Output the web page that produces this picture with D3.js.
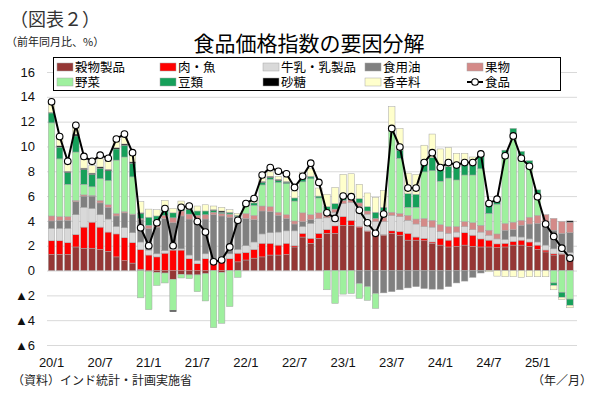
<!DOCTYPE html>
<meta charset="utf-8">
<script src="https://cdn.jsdelivr.net/npm/d3@7"></script>
<style>
  body { margin: 0; background: #fff; }
  text { font-family: "Noto Sans CJK JP", "Noto Sans", sans-serif; }
  .num text { font-family: "Liberation Sans", Arial, sans-serif; }
</style>
<div id="chart"></div>
<script>
  // categories: 2020/1 - 2025/5
  var months = [
    "20/1","20/2","20/3","20/4","20/5","20/6","20/7","20/8","20/9","20/10","20/11","20/12",
    "21/1","21/2","21/3","21/4","21/5","21/6","21/7","21/8","21/9","21/10","21/11","21/12",
    "22/1","22/2","22/3","22/4","22/5","22/6","22/7","22/8","22/9","22/10","22/11","22/12",
    "23/1","23/2","23/3","23/4","23/5","23/6","23/7","23/8","23/9","23/10","23/11","23/12",
    "24/1","24/2","24/3","24/4","24/5","24/6","24/7","24/8","24/9","24/10","24/11","24/12",
    "25/1","25/2","25/3","25/4","25/5"];
  var tickLabels = ["20/1","20/7","21/1","21/7","22/1","22/7","23/1","23/7","24/1","24/7","25/1"];
  var yTicks = [-6,-4,-2,0,2,4,6,8,10,12,14,16];

  // contributions (percentage points)
  var grain = [1.3,1.3,1.3,1.9,1.8,1.8,1.7,1.55,1.1,0.8,0.6,0.1,
    -0.05,-0.15,-0.2,-0.7,-0.3,-0.35,-0.35,-0.25,0,-0.15,0,0.7,
    0.85,1.0,1.1,1.25,1.25,1.3,1.9,2.7,2.2,2.6,3.0,3.0,
    3.65,3.65,3.45,3.15,3.0,2.85,3.0,2.85,2.45,2.45,2.4,2.2,
    2.05,1.9,1.95,2.05,1.95,1.9,1.9,1.85,1.9,2.05,2.05,1.95,
    1.7,1.5,1.25,1.3,1.0];
  var meat = [1.1,1.1,0.95,1.0,1.7,2.1,1.8,1.55,1.85,1.85,1.65,1.6,
    1.25,1.1,1.4,1.65,1.65,0.95,0.55,0.95,0.6,0.85,0.95,0.7,
    0.6,0.7,1.1,0.95,0.8,0.9,0.1,0.3,0.4,0.4,0.3,0.6,
    0.7,0.4,0.1,0.05,0,0.05,0.2,0.3,0.55,0.25,0.2,0.1,
    0.55,0.55,0.75,1.0,0.9,0.65,0.55,0.3,0.3,0.3,0.4,0.35,
    0.35,0.15,0.1,0.05,0.05];
  var dairy = [1.0,1.0,1.15,1.6,1.6,1.1,1.0,1.05,0.6,0.8,0.8,0.6,
    0.4,0.25,0.2,0.1,0.1,0.3,0.25,0.4,0.2,0.25,0.4,0.3,
    0.55,0.6,0.75,0.85,1.05,1.0,1.2,0.55,1.2,1.2,0.95,1.1,
    1.05,1.45,1.6,1.35,0.95,1.05,1.25,1.2,1.05,1.05,0.95,1.2,
    0.55,0.55,0.4,0.5,0.45,0.55,0.4,0.4,0.3,0.4,0.25,0.25,
    0.25,0.4,0.4,0.35,0.4];
  var oil = [0.6,0.65,0.65,1.05,0.9,1.0,0.95,0.95,0.85,1.2,1.45,1.8,
    1.75,2.15,2.6,2.1,2.65,2.9,3.2,2.8,3.7,3.3,2.95,2.35,
    2.2,1.8,1.85,1.7,1.35,1.0,0.55,0.4,0.3,0,0,0,
    0,0,-1.05,-1.3,-1.85,-1.8,-1.7,-1.55,-1.4,-1.3,-1.45,-1.5,
    -1.5,-1.3,-1.0,-0.85,-0.55,-0.2,0,0,0.75,0.55,0.95,1.2,
    1.5,1.6,1.5,1.3,1.6];
  var fruit = [0.4,0.3,0.3,0.1,0.1,0.05,0.2,0.2,0.2,0.1,0.05,0.1,
    0.25,0.25,0.25,0.4,0.4,0.4,0.45,0.35,0.2,0.2,0.25,0.3,
    0.4,0.35,0.4,0.4,0.25,0.3,0.25,0.7,0.4,0.45,0.4,0.25,
    0.25,0.25,0.3,0.25,0.25,0.35,0.25,0.25,0.4,0.4,0.65,0.55,
    0.55,0.55,0.45,0.4,0.55,0.55,0.4,0.4,0.55,0.6,0.4,0.55,
    0.65,0.85,0.95,0.95,0.85];
  var veg = [7.5,4.65,2.6,3.9,0.85,0.7,1.75,1.95,4.3,4.4,3.0,-2.2,
    -3.1,-1.05,-0.8,-2.5,-0.3,-0.3,-1.35,-2.2,-4.6,-4.1,-2.9,-0.55,
    0.65,0.8,1.7,2.2,2.4,2.5,1.6,2.5,2.9,1.2,-1.55,-2.65,
    -1.9,-1.85,-1.2,-1.1,-1.2,0.5,6.7,4.45,0.65,0.95,3.75,4.0,
    3.5,3.9,3.75,3.75,3.85,4.55,1.35,2.4,5.5,6.95,5.25,4.15,
    1.75,0,-1.0,-1.75,-2.3];
  var pulses = [0.8,0.95,0.95,1.3,1.2,1.0,0.85,0.8,0.9,0.95,1.1,0.4,
    0.65,0.65,0.4,0.4,0.4,0.4,0.35,0.3,0.15,0.1,0.1,0.1,
    0.15,0.2,0.2,0.15,0.15,0.12,0.25,0.25,0.15,0.15,0.5,0.45,
    0.5,0.45,0.35,0.35,0.5,0.3,0.2,0.65,1.1,1.05,0.95,1.05,
    1.1,0.95,1.0,0.8,0.8,1.1,0.8,0.35,0.4,0.6,0.3,0.4,
    0.3,0,-0.2,-0.4,-0.5];
  var sugar = [0.05,0.1,0.1,0.15,0.1,0.1,0.1,0.1,0.1,0.1,0.1,0.05,
    0,0,0,-0.12,0,0,0,0,0.05,0.1,0.05,0,
    0,0,0.08,0.1,0.1,0.05,0,0,0.05,0,0,0,
    0,0,0,0,0,0,0,0,0,0,0,0,
    0,0,0,0,0,0,0,0,0,0,0,0,
    0,0,0,0,0.1];
  var spice = [0.9,0.6,0.6,0.5,0.7,0.6,0.65,0.65,0.6,0.55,0.5,0.9,
    0.65,0.5,0.8,0.35,0.4,0.4,0.4,0.5,0.3,0.3,0.2,0.15,
    0.1,0.2,0.35,0.35,0.25,0.35,0.55,0.5,0.6,0.65,1.0,1.3,
    1.6,1.6,1.15,1.1,1.2,1.35,1.6,1.75,1.65,1.6,1.2,1.9,
    1.5,1.5,1.15,0.95,0.65,0.1,-0.1,-0.45,-0.5,-0.5,-0.55,-0.5,
    -0.5,-0.5,-0.35,-0.2,-0.2];
  // food price index, y/y %
  var food = [13.6,10.8,8.8,11.7,9.2,8.8,9.3,9.05,10.6,11.0,9.5,3.45,
    2.0,3.85,5.0,2.0,5.1,5.2,3.95,3.1,0.7,0.85,1.9,4.05,
    5.4,5.8,7.7,8.3,8.0,7.8,6.7,7.6,8.65,7.1,4.65,4.2,
    6.0,5.95,4.85,3.85,3.0,4.55,11.45,9.95,6.65,6.65,8.7,9.5,
    8.3,8.7,8.5,8.7,8.7,9.4,5.4,5.75,9.25,10.85,9.05,8.4,
    5.95,3.75,2.75,1.8,1.0];

  var keys = ["grain","meat","dairy","oil","fruit","veg","pulses","sugar","spice"];
  var names = ["穀物製品","肉・魚","牛乳・乳製品","食用油","果物","野菜","豆類","砂糖","香辛料"];
  var colors = ["#953735","#ff0000","#d9d9d9","#808080","#d48a88","#9ef09e","#16a05a","#000000","#ffffcc"];
  var seriesData = [grain, meat, dairy, oil, fruit, veg, pulses, sugar, spice];

  var rows = months.map(function (m, i) {
    var r = { month: m, food: food[i] };
    keys.forEach(function (k, j) { r[k] = seriesData[j][i]; });
    return r;
  });

  var svg = d3.select("#chart").append("svg")
    .attr("width", 603).attr("height", 399);

  var x = d3.scaleBand().domain(months).range([47.5, 574])
    .paddingInner(0.2).paddingOuter(0.1);
  var y = d3.scaleLinear().domain([-6, 16]).range([345, 72]);

  // grid lines
  svg.append("g")
    .attr("transform", "translate(47,0)")
    .call(d3.axisLeft(y).tickValues(yTicks).tickSize(-530).tickFormat(""))
    .call(function (g) { g.select(".domain").remove(); })
    .selectAll("line").attr("stroke", "#d9d9d9");

  // y labels
  svg.append("g").attr("class", "num")
    .attr("transform", "translate(35,0)")
    .call(d3.axisLeft(y).tickValues(yTicks).tickSize(0).tickPadding(0)
      .tickFormat(function (d) { return d < 0 ? "▲" + (-d) : d; }))
    .call(function (g) { g.select(".domain").remove(); })
    .selectAll("text").attr("font-size", 13).attr("fill", "#111");

  // stacked bars
  var stacked = d3.stack().keys(keys).offset(d3.stackOffsetDiverging)(rows);
  svg.append("g").selectAll("g")
    .data(stacked)
    .enter().append("g")
    .attr("fill", function (d, i) { return colors[i]; })
    .selectAll("rect")
    .data(function (d) { return d.filter(function (p) { return p[1] !== p[0]; }); })
    .enter().append("rect")
    .attr("x", function (d) { return x(d.data.month); })
    .attr("y", function (d) { return y(Math.max(d[0], d[1])); })
    .attr("width", x.bandwidth())
    .attr("height", function (d) { return Math.abs(y(d[0]) - y(d[1])); })
    .attr("stroke", "#a6a6a6")
    .attr("stroke-width", 0.5);

  // food line
  var cx = function (d) { return x(d.month) + x.bandwidth() / 2; };
  svg.append("path")
    .datum(rows)
    .attr("fill", "none")
    .attr("stroke", "#000")
    .attr("stroke-width", 2)
    .attr("d", d3.line().x(cx).y(function (d) { return y(d.food); }));
  svg.append("g").selectAll("circle")
    .data(rows)
    .enter().append("circle")
    .attr("cx", cx)
    .attr("cy", function (d) { return y(d.food); })
    .attr("r", 3.3)
    .attr("fill", "#fff")
    .attr("stroke", "#000")
    .attr("stroke-width", 1.1);

  // x labels
  svg.append("g").attr("class", "num")
    .attr("transform", "translate(0,352)")
    .call(d3.axisBottom(x).tickValues(tickLabels).tickSize(0).tickPadding(6))
    .call(function (g) { g.select(".domain").remove(); })
    .selectAll("text").attr("font-size", 13).attr("fill", "#111");

  // legend
  var legend = svg.append("g");
  legend.append("rect")
    .attr("x", 53.5).attr("y", 57.5).attr("width", 507).attr("height", 33)
    .attr("fill", "#fff").attr("stroke", "#000");
  var colX = [57, 160, 263, 365, 467];
  var rowY = [67, 82];
  names.forEach(function (n, i) {
    var lx = colX[i % 5], ly = rowY[Math.floor(i / 5)];
    legend.append("rect")
      .attr("x", lx).attr("y", ly - 4).attr("width", 16).attr("height", 8)
      .attr("fill", colors[i]).attr("stroke", "#a6a6a6").attr("stroke-width", 0.5);
    legend.append("text")
      .attr("x", lx + 18).attr("y", ly + 4.5)
      .attr("font-size", 12.5).text(n);
  });
  legend.append("line")
    .attr("x1", colX[4]).attr("x2", colX[4] + 16)
    .attr("y1", rowY[1]).attr("y2", rowY[1])
    .attr("stroke", "#000").attr("stroke-width", 2);
  legend.append("circle")
    .attr("cx", colX[4] + 8).attr("cy", rowY[1]).attr("r", 3.3)
    .attr("fill", "#fff").attr("stroke", "#000").attr("stroke-width", 1.1);
  legend.append("text")
    .attr("x", colX[4] + 18).attr("y", rowY[1] + 4.5)
    .attr("font-size", 12.5).text("食品");

  // titles and notes
  svg.append("text").attr("x", 10).attr("y", 26)
    .attr("font-size", 18).attr("fill", "#333").text("（図表２）");
  svg.append("text").attr("x", 6).attr("y", 46)
    .attr("font-size", 11).attr("fill", "#222").text("（前年同月比、%）");
  svg.append("text").attr("x", 309).attr("y", 51)
    .attr("text-anchor", "middle").attr("font-size", 21).text("食品価格指数の要因分解");
  svg.append("text").attr("x", 12).attr("y", 385)
    .attr("font-size", 12).attr("fill", "#222").text("（資料）インド統計・計画実施省");
  svg.append("text").attr("x", 592).attr("y", 385)
    .attr("text-anchor", "end").attr("font-size", 12).attr("fill", "#222").text("（年／月）");
</script>
